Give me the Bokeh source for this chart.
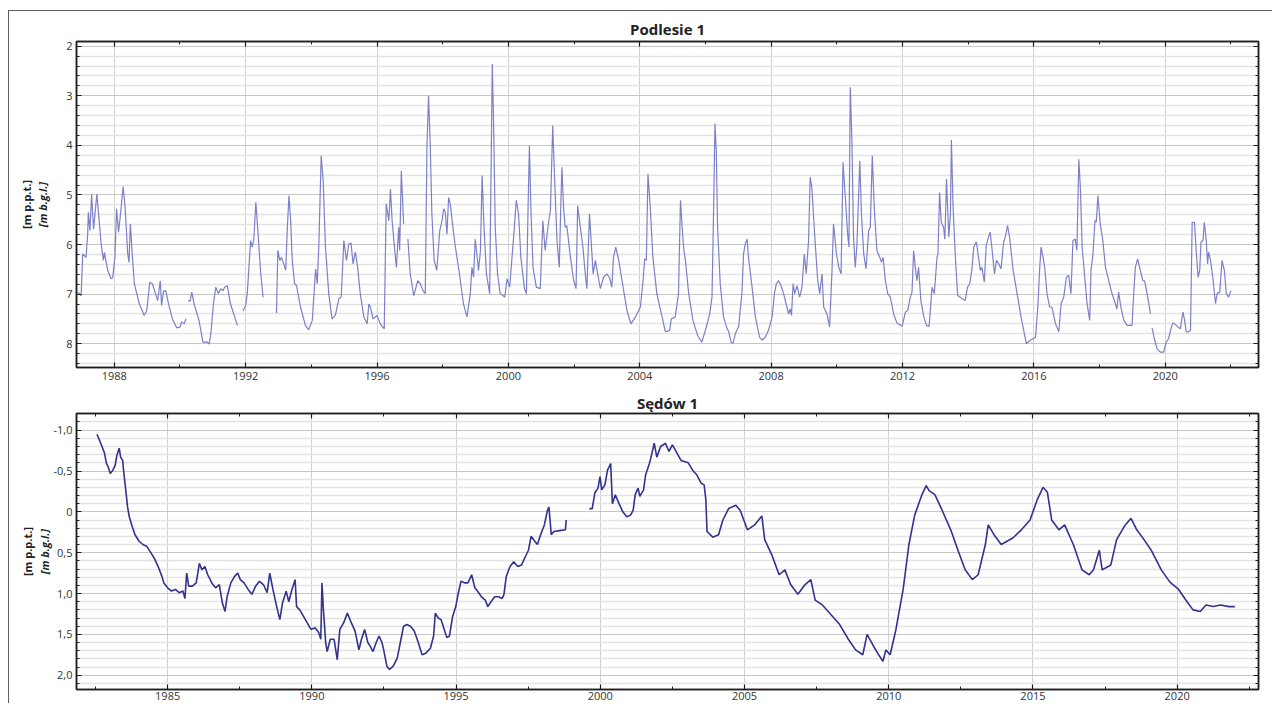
import math
from bokeh.plotting import figure
from bokeh.models import Range1d, FixedTicker, LinearAxis, CustomJSTickFormatter
from bokeh.layouts import column
from bokeh.embed import file_html
from bokeh.resources import INLINE

nan = float("nan")

# ---------------- Podlesie 1 : depth to water table [m b.g.l.] ----------------
podlesie_year = [
    1986.89, 1986.99, 1987.04, 1987.14, 1987.19, 1987.21, 1987.26, 1987.31, 1987.37, 1987.47,
    1987.54, 1987.60, 1987.67, 1987.70, 1987.80, 1987.90, 1987.95, 1988.02, 1988.07, 1988.13,
    1988.18, 1988.27, 1988.33, 1988.41, 1988.45, 1988.49, 1988.54, 1988.61, 1988.76, 1988.91,
    1988.99, 1989.08, 1989.16, 1989.32, 1989.40, 1989.44, 1989.50, 1989.57, 1989.65, 1989.77,
    1989.90, 1990.01, 1990.05, 1990.13, 1990.18, nan,
    1990.25, 1990.31, 1990.36, 1990.43, 1990.58, 1990.70, 1990.84, 1990.89, 1990.94, 1991.02,
    1991.09, 1991.17, 1991.24, 1991.31, 1991.36, 1991.44, 1991.54, 1991.75, nan,
    1991.92, 1992.00, 1992.05, 1992.10, 1992.15, 1992.20, 1992.25, 1992.31, 1992.38, 1992.46,
    1992.53, nan,
    1992.94, 1992.98, 1993.04, 1993.09, 1993.16, 1993.22, 1993.27, 1993.32, 1993.37, 1993.42,
    1993.49, 1993.55, 1993.67, 1993.82, 1993.92, 1994.03, 1994.13, 1994.18, 1994.23, 1994.30,
    1994.36, 1994.43, 1994.53, 1994.63, 1994.73, 1994.84, 1994.91, 1994.99, 1995.07, 1995.14,
    1995.21, 1995.27, 1995.34, 1995.41, 1995.49, 1995.60, 1995.70, 1995.75, 1995.80, 1995.88,
    1996.00, 1996.10, 1996.22, 1996.28, 1996.36, 1996.41, 1996.46, 1996.51, 1996.59, 1996.66,
    1996.69, 1996.74, 1996.81, nan,
    1996.94, 1997.01, 1997.12, 1997.24, 1997.32, 1997.40, 1997.47, 1997.52, 1997.57, 1997.62,
    1997.67, 1997.74, 1997.82, 1997.91, 1997.98, 1998.03, 1998.08, 1998.13, 1998.18, 1998.23,
    1998.31, 1998.38, 1998.51, 1998.63, 1998.74, 1998.84, 1998.89, 1998.94, 1998.99, 1999.04,
    1999.09, 1999.15, 1999.20, 1999.25, 1999.33, 1999.43, 1999.47, 1999.51, 1999.55, 1999.60,
    1999.67, 1999.75, 1999.89, 1999.96, 2000.04, 2000.11, 2000.16, 2000.24, 2000.31, 2000.38,
    2000.49, 2000.55, 2000.60, 2000.64, 2000.69, 2000.75, 2000.85, 2000.97, 2001.05, 2001.12,
    2001.23, 2001.28, 2001.35, 2001.41, 2001.48, 2001.55, 2001.60, 2001.63, 2001.68, 2001.73,
    2001.78, 2001.89, 2001.99, 2002.06, 2002.11, 2002.19, 2002.27, 2002.34, 2002.39, 2002.47,
    2002.52, 2002.58, 2002.65, 2002.70, 2002.80, 2002.90, 2003.00, 2003.08, 2003.15, 2003.20,
    2003.27, 2003.36, 2003.51, 2003.61, 2003.73, 2003.87, 2004.02, 2004.10, 2004.15, 2004.20,
    2004.25, 2004.32, 2004.40, 2004.52, 2004.68, 2004.78, 2004.91, 2004.96, 2005.08, 2005.18,
    2005.24, 2005.29, 2005.34, 2005.39, 2005.49, 2005.62, 2005.76, 2005.89, 2006.03, 2006.13,
    2006.20, 2006.25, 2006.29, 2006.33, 2006.37, 2006.45, 2006.55, 2006.66, 2006.71, 2006.78,
    2006.84, 2006.91, 2007.01, 2007.11, 2007.16, 2007.21, 2007.27, 2007.31, 2007.42, 2007.52,
    2007.65, 2007.72, 2007.82, 2007.92, 2008.03, 2008.10, 2008.16, 2008.23, 2008.30, 2008.38,
    2008.48, 2008.53, 2008.58, 2008.62, 2008.67, 2008.72, 2008.79, 2008.87, 2008.94, 2009.01,
    2009.07, 2009.14, 2009.19, 2009.24, 2009.30, 2009.35, 2009.42, 2009.48, 2009.55, 2009.60,
    2009.70, 2009.78, 2009.85, 2009.90, 2009.99, 2010.06, 2010.13, 2010.19, 2010.26, 2010.33,
    2010.37, 2010.41, 2010.46, 2010.51, 2010.56, 2010.61, 2010.70, 2010.75, 2010.82, 2010.89,
    2010.97, 2011.02, 2011.08, 2011.14, 2011.22, 2011.31, 2011.36, 2011.41, 2011.48, 2011.55,
    2011.63, 2011.73, 2011.83, 2011.99, 2012.09, 2012.16, 2012.24, 2012.29, 2012.34, 2012.39,
    2012.44, 2012.49, 2012.56, 2012.65, 2012.73, 2012.81, 2012.90, 2012.97, 2013.05, 2013.08,
    2013.13, 2013.18, 2013.25, 2013.29, 2013.34, 2013.41, 2013.46, 2013.49, 2013.54, 2013.61,
    2013.68, 2013.81, 2013.91, 2013.98, 2014.05, 2014.12, 2014.17, 2014.25, 2014.30, 2014.37,
    2014.42, 2014.49, 2014.55, 2014.60, 2014.67, 2014.72, 2014.80, 2014.86, 2014.93, 2015.00,
    2015.08, 2015.13, 2015.20, 2015.26, 2015.37, 2015.49, 2015.61, 2015.77, 2015.89, 2016.05,
    2016.12, 2016.18, 2016.22, 2016.28, 2016.33, 2016.40, 2016.48, 2016.55, 2016.66, 2016.76,
    2016.83, 2016.91, 2016.99, 2017.06, 2017.13, 2017.19, 2017.26, 2017.31, 2017.37, 2017.42,
    2017.47, 2017.54, 2017.62, 2017.70, 2017.74, 2017.80, 2017.86, 2017.90, 2017.95, 2018.02,
    2018.10, 2018.18, 2018.28, 2018.38, 2018.48, 2018.53, 2018.58, 2018.65, 2018.74, 2018.84,
    2018.99, 2019.04, 2019.09, 2019.16, 2019.24, 2019.32, 2019.37, 2019.43, 2019.50, 2019.55, nan,
    2019.60, 2019.67, 2019.75, 2019.85, 2019.95, 2020.03, 2020.10, 2020.19, 2020.24, 2020.34,
    2020.46, 2020.54, 2020.59, 2020.64, 2020.71, 2020.77, 2020.82, 2020.89, 2020.95, 2021.00,
    2021.05, 2021.09, 2021.15, 2021.19, 2021.25, 2021.29, 2021.32, 2021.38, 2021.46, 2021.53,
    2021.58, 2021.66, 2021.73, 2021.80, 2021.86, 2021.93, 2022.00,
]
podlesie_depth = [
    6.96, 7.03, 6.19, 6.26, 5.79, 5.35, 5.72, 4.99, 5.69, 4.98,
    5.52, 5.99, 6.32, 6.16, 6.52, 6.69, 6.67, 6.26, 5.28, 5.75,
    5.45, 4.83, 5.25, 6.19, 6.36, 5.58, 6.12, 6.79, 7.19, 7.43,
    7.33, 6.76, 6.79, 7.13, 6.73, 7.23, 6.94, 6.93, 7.19, 7.50,
    7.68, 7.66, 7.56, 7.60, 7.50, nan,
    7.13, 7.14, 6.96, 7.20, 7.53, 7.97, 7.97, 8.01, 7.80, 7.20,
    6.86, 6.99, 6.89, 6.93, 6.86, 6.83, 7.20, 7.63, nan,
    7.34, 7.23, 6.99, 6.46, 5.92, 6.05, 5.89, 5.15, 5.79, 6.59,
    7.06, nan,
    7.38, 6.12, 6.32, 6.26, 6.39, 6.52, 5.65, 5.01, 5.52, 6.32,
    6.79, 6.83, 7.26, 7.63, 7.72, 7.53, 6.49, 6.79, 5.99, 4.21,
    4.71, 6.05, 6.99, 7.50, 7.43, 7.09, 7.06, 5.92, 6.32, 5.99,
    5.97, 6.39, 6.15, 6.46, 6.99, 7.46, 7.60, 7.20, 7.26, 7.50,
    7.43, 7.60, 7.70, 5.18, 5.52, 4.88, 5.52, 5.89, 6.46, 5.65,
    6.12, 4.51, 5.58, nan,
    5.89, 6.59, 7.03, 6.73, 6.79, 6.93, 6.99, 4.04, 3.00, 3.97,
    5.38, 6.32, 6.52, 5.72, 5.52, 5.28, 5.35, 5.79, 5.05, 5.18,
    5.65, 6.02, 6.59, 7.19, 7.46, 6.99, 6.46, 6.66, 5.89, 6.19,
    6.52, 6.12, 4.61, 5.52, 6.59, 6.99, 4.71, 2.36, 3.57, 5.65,
    6.59, 6.99, 7.06, 6.69, 6.86, 6.26, 5.85, 5.11, 5.38, 6.26,
    6.89, 6.99, 5.25, 4.01, 5.38, 6.46, 6.86, 6.89, 5.52, 6.12,
    5.52, 5.32, 3.60, 4.71, 5.92, 6.46, 5.11, 4.44, 5.25, 5.65,
    5.62, 6.26, 6.73, 6.89, 5.22, 5.65, 6.05, 6.59, 6.89, 5.38,
    5.92, 6.59, 6.32, 6.52, 6.89, 6.66, 6.59, 6.67, 6.86, 6.26,
    6.05, 6.32, 6.93, 7.33, 7.60, 7.46, 7.26, 6.73, 6.29, 6.32,
    4.58, 5.25, 6.26, 6.99, 7.46, 7.76, 7.73, 7.50, 7.46, 6.99,
    5.11, 5.65, 6.09, 6.32, 6.99, 7.53, 7.83, 7.97, 7.66, 7.40,
    7.06, 5.25, 3.56, 4.11, 5.65, 6.79, 7.46, 7.70, 7.76, 7.97,
    7.99, 7.80, 7.66, 6.99, 6.19, 5.99, 5.89, 6.26, 6.86, 7.46,
    7.87, 7.93, 7.87, 7.73, 7.46, 6.99, 6.79, 6.73, 6.83, 6.99,
    7.26, 7.40, 7.30, 7.43, 6.79, 6.99, 6.83, 7.06, 6.86, 6.19,
    6.59, 5.92, 4.64, 4.85, 5.52, 6.05, 6.73, 6.99, 6.59, 7.26,
    7.40, 7.66, 6.59, 5.58, 6.19, 6.46, 6.59, 4.34, 5.05, 5.79,
    6.05, 2.83, 3.91, 5.85, 6.46, 6.05, 4.31, 5.38, 6.19, 6.49,
    5.72, 5.65, 4.21, 5.25, 6.12, 6.26, 6.36, 6.26, 6.73, 6.99,
    7.06, 7.40, 7.58, 7.65, 7.36, 7.33, 7.06, 6.96, 6.12, 6.46,
    6.73, 6.46, 7.13, 7.46, 7.63, 7.65, 6.86, 6.99, 6.26, 6.19,
    4.95, 5.55, 5.65, 5.89, 4.68, 5.85, 5.38, 3.89, 5.25, 6.26,
    7.03, 7.09, 7.13, 6.86, 6.79, 6.46, 6.05, 5.95, 6.19, 6.52,
    6.46, 6.76, 6.02, 5.89, 5.75, 6.05, 6.59, 6.32, 6.39, 6.49,
    5.95, 5.85, 5.62, 5.85, 6.52, 6.99, 7.46, 8.00, 7.93, 7.87,
    7.26, 6.46, 6.05, 6.26, 6.46, 6.99, 7.26, 7.26, 7.60, 7.76,
    7.19, 7.06, 6.66, 6.62, 6.99, 5.92, 5.89, 6.12, 4.28, 4.91,
    6.05, 6.59, 7.19, 7.53, 6.52, 6.19, 5.52, 5.55, 5.01, 5.58,
    5.92, 6.46, 6.73, 6.99, 7.19, 7.30, 6.96, 7.26, 7.53, 7.63,
    7.63, 6.99, 6.46, 6.29, 6.52, 6.73, 6.73, 6.93, 7.19, 7.40, nan,
    7.68, 7.90, 8.10, 8.17, 8.17, 7.97, 7.90, 7.66, 7.58, 7.63,
    7.70, 7.36, 7.53, 7.76, 7.76, 7.73, 5.55, 5.55, 6.19, 6.66,
    6.52, 5.95, 5.92, 5.55, 5.92, 6.39, 6.15, 6.32, 6.73, 7.19,
    6.99, 6.96, 6.32, 6.52, 6.99, 7.06, 6.93,
]

# ---------------- Sędów 1 : depth to water table [m b.g.l.] ----------------
sedow_year = [
    1982.55, 1982.68, 1982.81, 1982.88, 1982.94, 1983.01, 1983.10, 1983.18, 1983.24, 1983.32,
    1983.37, 1983.44, 1983.47, 1983.54, 1983.61, 1983.67, 1983.77, 1983.87, 1984.01, 1984.14,
    1984.27, 1984.40, 1984.54, 1984.67, 1984.80, 1984.87, 1985.00, 1985.13, 1985.27, 1985.40,
    1985.53, 1985.60, 1985.66, 1985.73, 1985.86, 1985.99, 1986.10, 1986.19, 1986.29, 1986.39,
    1986.53, 1986.66, 1986.79, 1986.90, 1986.99, 1987.06, 1987.19, 1987.32, 1987.43, 1987.52,
    1987.65, 1987.79, 1987.92, 1988.05, 1988.18, 1988.32, 1988.45, 1988.54, 1988.65, 1988.78,
    1988.89, 1988.98, 1989.11, 1989.20, 1989.31, 1989.42, 1989.47, 1989.58, 1989.71, 1989.84,
    1989.97, 1990.11, 1990.24, 1990.31, 1990.35, 1990.40, 1990.48, 1990.53, 1990.64, 1990.77,
    1990.88, 1990.97, 1991.10, 1991.23, 1991.37, 1991.50, 1991.63, 1991.72, 1991.83, 1991.94,
    1992.03, 1992.12, 1992.23, 1992.33, 1992.43, 1992.49, 1992.60, 1992.69, 1992.82, 1992.96,
    1993.09, 1993.18, 1993.29, 1993.42, 1993.55, 1993.69, 1993.82, 1993.95, 1994.11, 1994.22,
    1994.28, 1994.38, 1994.48, 1994.59, 1994.68, 1994.77, 1994.88, 1994.99, 1995.08, 1995.17,
    1995.31, 1995.41, 1995.54, 1995.65, 1995.74, 1995.88, 1996.01, 1996.10, 1996.21, 1996.34,
    1996.47, 1996.60, 1996.66, 1996.74, 1996.87, 1997.00, 1997.14, 1997.27, 1997.40, 1997.51,
    1997.60, 1997.73, 1997.82, 1997.93, 1998.06, 1998.17, 1998.22, 1998.30, 1998.39, 1998.59,
    1998.79, 1998.82, nan,
    1999.62, 1999.72, 1999.81, 1999.92, 1999.99, 2000.05, 2000.16, 2000.25, 2000.36, 2000.42,
    2000.52, 2000.65, 2000.78, 2000.92, 2001.05, 2001.14, 2001.21, 2001.31, 2001.37, 2001.50,
    2001.57, 2001.70, 2001.76, 2001.87, 2001.96, 2002.09, 2002.26, 2002.38, 2002.50, 2002.80,
    2003.05, 2003.20, 2003.35, 2003.50, 2003.60, 2003.66, 2003.70, 2003.90, 2004.10, 2004.25,
    2004.45, 2004.70, 2004.85, 2005.10, 2005.35, 2005.60, 2005.70, 2005.95, 2006.20, 2006.40,
    2006.60, 2006.85, 2007.10, 2007.30, 2007.45, 2007.70, 2008.00, 2008.30, 2008.60, 2008.85,
    2009.10, 2009.25, 2009.45, 2009.65, 2009.80, 2009.90, 2010.05, 2010.25, 2010.50, 2010.70,
    2010.90, 2011.15, 2011.30, 2011.40, 2011.60, 2011.85, 2012.15, 2012.40, 2012.65, 2012.90,
    2013.10, 2013.35, 2013.45, 2013.65, 2013.90, 2014.30, 2014.60, 2014.90, 2015.15, 2015.35,
    2015.50, 2015.65, 2015.90, 2016.10, 2016.40, 2016.70, 2016.95, 2017.10, 2017.30, 2017.40,
    2017.70, 2017.90, 2018.20, 2018.40, 2018.60, 2018.85, 2019.10, 2019.45, 2019.75, 2020.05,
    2020.30, 2020.55, 2020.80, 2021.00, 2021.25, 2021.50, 2021.80, 2022.00,
]
sedow_depth = [
    -0.95, -0.84, -0.72, -0.59, -0.55, -0.47, -0.51, -0.57, -0.69, -0.78,
    -0.67, -0.63, -0.51, -0.29, -0.06, 0.06, 0.18, 0.28, 0.36, 0.40,
    0.42, 0.49, 0.57, 0.67, 0.79, 0.87, 0.93, 0.97, 0.95, 0.99,
    0.97, 1.06, 0.75, 0.91, 0.91, 0.87, 0.63, 0.71, 0.67, 0.77,
    0.87, 0.93, 0.89, 1.12, 1.22, 1.04, 0.87, 0.79, 0.75, 0.83,
    0.87, 0.95, 1.01, 0.91, 0.85, 0.89, 0.99, 0.75, 0.95, 1.16,
    1.32, 1.12, 0.97, 1.10, 0.95, 0.83, 1.16, 1.20, 1.28, 1.36,
    1.44, 1.42, 1.48, 1.56, 0.87, 1.20, 1.60, 1.71, 1.56, 1.56,
    1.81, 1.44, 1.36, 1.24, 1.36, 1.46, 1.69, 1.56, 1.44, 1.60,
    1.65, 1.71, 1.60, 1.52, 1.60, 1.69, 1.89, 1.93, 1.89, 1.79,
    1.56, 1.40, 1.38, 1.40, 1.46, 1.60, 1.75, 1.73, 1.67, 1.52,
    1.24, 1.30, 1.32, 1.44, 1.54, 1.52, 1.28, 1.16, 0.99, 0.85,
    0.87, 0.87, 0.77, 0.93, 0.97, 1.04, 1.08, 1.16, 1.10, 1.04,
    1.04, 1.06, 1.01, 0.79, 0.67, 0.61, 0.67, 0.65, 0.55, 0.47,
    0.30, 0.36, 0.40, 0.28, 0.16, -0.02, -0.06, 0.28, 0.24, 0.23,
    0.22, 0.10, nan,
    -0.04, -0.04, -0.23, -0.29, -0.43, -0.27, -0.33, -0.51, -0.59, -0.10,
    -0.21, -0.10, 0.00, 0.06, 0.04, -0.02, -0.21, -0.29, -0.19, -0.27,
    -0.45, -0.59, -0.67, -0.84, -0.67, -0.80, -0.84, -0.74, -0.82, -0.63,
    -0.60, -0.51, -0.45, -0.35, -0.33, -0.15, 0.24, 0.31, 0.28, 0.10,
    -0.04, -0.08, -0.02, 0.22, 0.16, 0.05, 0.34, 0.53, 0.77, 0.71,
    0.89, 1.01, 0.89, 0.83, 1.08, 1.14, 1.26, 1.38, 1.56, 1.69,
    1.75, 1.50, 1.63, 1.75, 1.83, 1.69, 1.75, 1.44, 0.95, 0.40,
    0.04, -0.21, -0.32, -0.26, -0.21, -0.02, 0.22, 0.47, 0.71, 0.83,
    0.77, 0.40, 0.16, 0.28, 0.40, 0.32, 0.22, 0.10, -0.15, -0.30,
    -0.24, 0.10, 0.22, 0.16, 0.40, 0.71, 0.77, 0.71, 0.47, 0.71,
    0.65, 0.34, 0.16, 0.08, 0.22, 0.34, 0.47, 0.71, 0.86, 0.95,
    1.08, 1.20, 1.22, 1.14, 1.16, 1.14, 1.16, 1.16,
]

# ---------------- axes (tick values and labels) ----------------
podlesie_title = "Podlesie 1"
sedow_title = "Sędów 1"
ylabel_pl = "[m p.p.t.]"
ylabel_en = "[m b.g.l.]"

podlesie_x_ticks = [1988, 1992, 1996, 2000, 2004, 2008, 2012, 2016, 2020]
podlesie_x_minor = [1986, 1990, 1994, 1998, 2002, 2006, 2010, 2014, 2018, 2022]
podlesie_y_ticks = [2, 3, 4, 5, 6, 7, 8]
podlesie_x_range = (1986.85, 2022.84)
podlesie_y_range = (8.48, 1.905)

sedow_x_ticks = [1985, 1990, 1995, 2000, 2005, 2010, 2015, 2020]
sedow_x_minor = [1982.5, 1987.5, 1992.5, 1997.5, 2002.5, 2007.5, 2012.5, 2017.5, 2022.5]
sedow_y_ticks = [-1.0, -0.5, 0.0, 0.5, 1.0, 1.5, 2.0]
sedow_x_range = (1981.84, 2022.82)
sedow_y_range = (2.175, -1.204)

FONT = "Open Sans"
DARK = "#1e1e1e"


def minor_between(majors, step, lo, hi):
    out = []
    n = int(round((hi - lo) / step))
    for i in range(n + 1):
        v = round(lo + i * step, 3)
        if all(abs(v - m) > 1e-6 for m in majors):
            out.append(v)
    return out


def style_axis(ax, show_labels):
    ax.axis_line_color = DARK
    ax.axis_line_width = 1.5
    ax.major_tick_in = 5
    ax.major_tick_out = 0
    ax.minor_tick_in = 3
    ax.minor_tick_out = 0
    ax.major_tick_line_color = DARK
    ax.minor_tick_line_color = DARK
    ax.major_tick_line_width = 1.2
    ax.minor_tick_line_width = 1
    ax.major_label_text_font = FONT
    ax.major_label_text_font_size = "11px"
    ax.major_label_text_color = "#333333"
    if not show_labels:
        # tick marks only: labels are not drawn at all
        ax.major_label_text_color = None
        ax.major_label_text_font_size = "2px"
        ax.major_label_standoff = 0
        ax.axis_label = None


def make_fig(title, xr, yr, xt, xm, yt, ym, frame_h, mbt, mbb, title_standoff,
             label_standoff_inner, formatter=None):
    p = figure(frame_width=1182, frame_height=frame_h,
               x_range=Range1d(*xr), y_range=Range1d(*yr),
               output_backend="svg", toolbar_location=None,
               min_border_left=67, min_border_right=14,
               min_border_top=mbt, min_border_bottom=mbb,
               background_fill_color="white", border_fill_color="white")
    p.title.text = title
    p.title.align = "center"
    p.title.text_font = FONT
    p.title.text_font_size = "15px"
    p.title.text_font_style = "bold"
    p.title.text_color = "#222222"
    p.title.standoff = title_standoff

    xticker = FixedTicker(ticks=xt, minor_ticks=xm)
    yticker = FixedTicker(ticks=yt, minor_ticks=ym)

    p.xaxis.ticker = xticker
    p.yaxis.ticker = yticker
    for ax in p.xaxis:
        style_axis(ax, True)
        ax.major_label_standoff = 4
    for ax in p.yaxis:
        style_axis(ax, True)
        ax.major_label_standoff = 4
        ax.axis_label = ylabel_en
        ax.axis_label_text_font = FONT
        ax.axis_label_text_font_size = "11px"
        ax.axis_label_text_font_style = "bold italic"
        ax.axis_label_text_color = "#222222"
        ax.axis_label_standoff = label_standoff_inner
        if formatter is not None:
            ax.formatter = formatter

    top = LinearAxis(ticker=xticker)
    style_axis(top, False)
    p.add_layout(top, "above")
    right = LinearAxis(ticker=yticker)
    style_axis(right, False)
    p.add_layout(right, "right")

    outer = LinearAxis(ticker=FixedTicker(ticks=[]), axis_label=ylabel_pl)
    outer.axis_line_color = None
    outer.major_tick_line_color = None
    outer.minor_tick_line_color = None
    outer.major_label_text_color = None
    outer.major_label_text_font_size = "0px"
    outer.major_label_standoff = 0
    outer.axis_label_text_font = FONT
    outer.axis_label_text_font_size = "11px"
    outer.axis_label_text_font_style = "bold"
    outer.axis_label_text_color = "#222222"
    outer.axis_label_standoff = -1
    p.add_layout(outer, "left")

    p.xgrid.ticker = xticker
    p.xgrid.grid_line_color = "#d2d2d2"
    p.xgrid.grid_line_width = 1
    p.ygrid.ticker = yticker
    p.ygrid.grid_line_color = "#c6c6c6"
    p.ygrid.grid_line_width = 1.2
    p.ygrid.minor_grid_line_color = "#e3e3e3"
    p.ygrid.minor_grid_line_width = 1.5

    p.outline_line_color = DARK
    p.outline_line_width = 1.5
    return p


p1 = make_fig(podlesie_title, podlesie_x_range, podlesie_y_range,
              podlesie_x_ticks, podlesie_x_minor, podlesie_y_ticks,
              minor_between(podlesie_y_ticks, 0.2, 1.8, 8.6),
              frame_h=326, mbt=30, mbb=22, title_standoff=5, label_standoff_inner=13)
p1.line(podlesie_year, podlesie_depth, line_color="#7b80c8", line_width=1.2)

comma_fmt = CustomJSTickFormatter(
    code="return Math.abs(tick) < 1e-9 ? '0' : tick.toFixed(1).replace('.', ',');")
p2 = make_fig(sedow_title, sedow_x_range, sedow_y_range,
              sedow_x_ticks, sedow_x_minor, sedow_y_ticks,
              minor_between(sedow_y_ticks, 0.1, -1.3, 2.3),
              frame_h=276, mbt=24, mbb=14, title_standoff=2, label_standoff_inner=-1,
              formatter=comma_fmt)
for ax in p2.xaxis:
    ax.major_label_standoff = 2
p2.line(sedow_year, sedow_depth, line_color="#32328f", line_width=1.6)

layout = column(p1, p2, margin=(10, 0, 0, 8),
                styles={"border-left": "1px solid #5e5e5e", "border-top": "1px solid #5e5e5e"})

open("out.html", "w").write(file_html(layout, INLINE))
